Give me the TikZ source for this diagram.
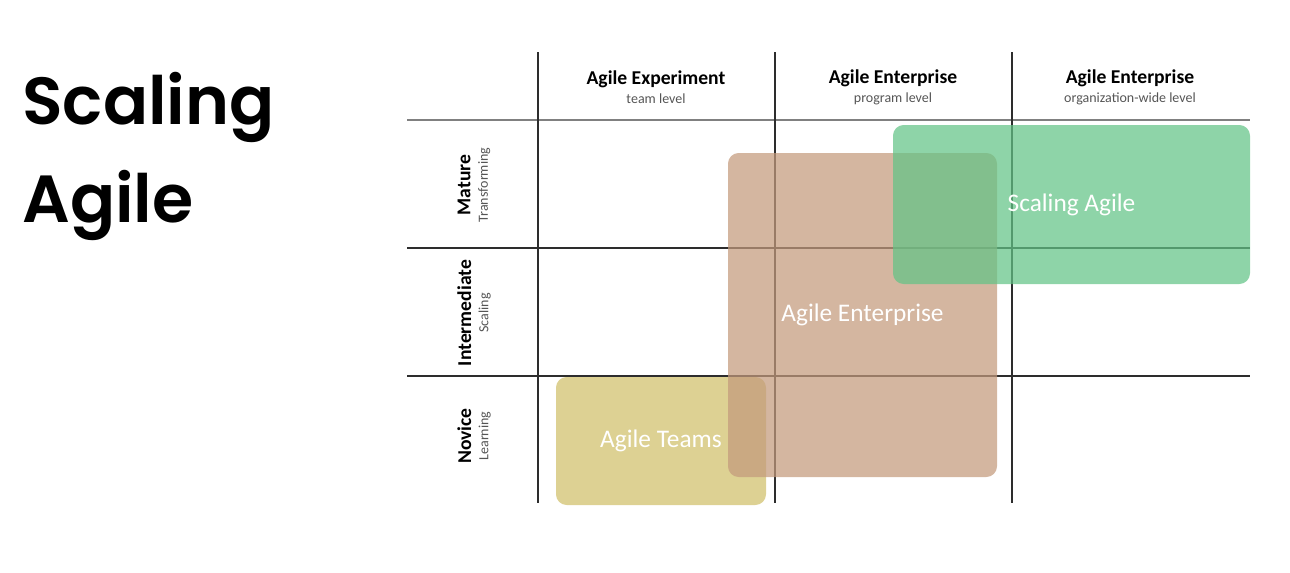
\documentclass[tikz,border=0pt]{standalone}
\usepackage{fontspec}
\setmainfont{Carlito}
\newfontfamily\titlefont{Poppins SemiBold}
\usepackage{tikz}
\usetikzlibrary{
	positioning,
	fit
}

\definecolor{gridgray}{RGB}{45,45,45}
\definecolor{subgray}{RGB}{85,85,85}
\definecolor{teamcol}{RGB}{208,191,105}
\definecolor{entcol}{RGB}{195,154,124}
\definecolor{scalecol}{RGB}{99,196,134}

\newcommand{\levelsub}[1]{{\mdseries\color{subgray}\fontsize{10.5}{11}\selectfont #1}}

\begin{document}
\begin{tikzpicture}[
		x=0.75pt, y=-0.75pt,
		title/.style={anchor=base west, inner sep=0pt, font=\titlefont\fontsize{50}{60}\selectfont},
		colhead/.style={align=center, font=\bfseries\fontsize{14.7}{15}\selectfont},
		rowhead/.style={align=center, rotate=90, font=\bfseries\fontsize{14.7}{15}\selectfont},
		gridline/.style={draw=gridgray, line width=0.8pt},
		phase/.style={rounded corners=8pt, inner sep=0pt, fill opacity=0.72},
		phaselabel/.style={text=white, font=\fontsize{19}{20}\selectfont}
		]
		
		\useasboundingbox (0,0) rectangle (1290,572);
		
		% =========================
		% Title
		% =========================
		\node[title] (t1) at (22,124) {Scaling};
		\node[title] (t2) at (22,222) {Agile};
		
		% =========================
		% Grid
		% =========================
		\draw[gridline, line width=1.6pt, draw=gray] (407,120) -- (1250,120);
		\draw[gridline] (407,248) -- (1250,248);
		\draw[gridline] (407,376) -- (1250,376);
		\draw[gridline] (538,52) -- (538,503);
		\draw[gridline] (775,52) -- (775,503);
		\draw[gridline] (1012,52) -- (1012,503);
		
		% =========================
		% Column headers
		% =========================
		\node[colhead] (c1) at (656,87) {Agile Experiment\\[-1pt]\levelsub{team level}};
		\node[colhead] (c2) at (893,87) {Agile Enterprise\\[-1pt]\levelsub{program level}};
		\node[colhead] (c3) at (1130,87) {Agile Enterprise\\[-1pt]\levelsub{organization-wide level}};
		
		% =========================
		% Row headers
		% =========================
		\node[rowhead] (r1) at (474,185) {Mature\\[-2pt]\levelsub{Transforming}};
		\node[rowhead] (r2) at (474,313) {Intermediate\\[-2pt]\levelsub{Scaling}};
		\node[rowhead] (r3) at (474,436) {Novice\\[-2pt]\levelsub{Learning}};
		
		% =========================
		% Phases
		% =========================
		\node[phase, fill=teamcol, fit={(556,377) (766,505)}] (teams) {};
		\node[phase, fill=entcol, fit={(728,153) (997,477)}] (enterprise) {};
		\node[phase, fill=scalecol, fit={(893,125) (1250,284)}] (scaling) {};
		
		\node[phaselabel] (teamslbl) at (teams.center) {Agile Teams};
		\node[phaselabel] (enterpriselbl) at (enterprise.center) {Agile Enterprise};
		\node[phaselabel] (scalinglbl) at (scaling.center) {Scaling Agile};
		
	\end{tikzpicture}
\end{document}
